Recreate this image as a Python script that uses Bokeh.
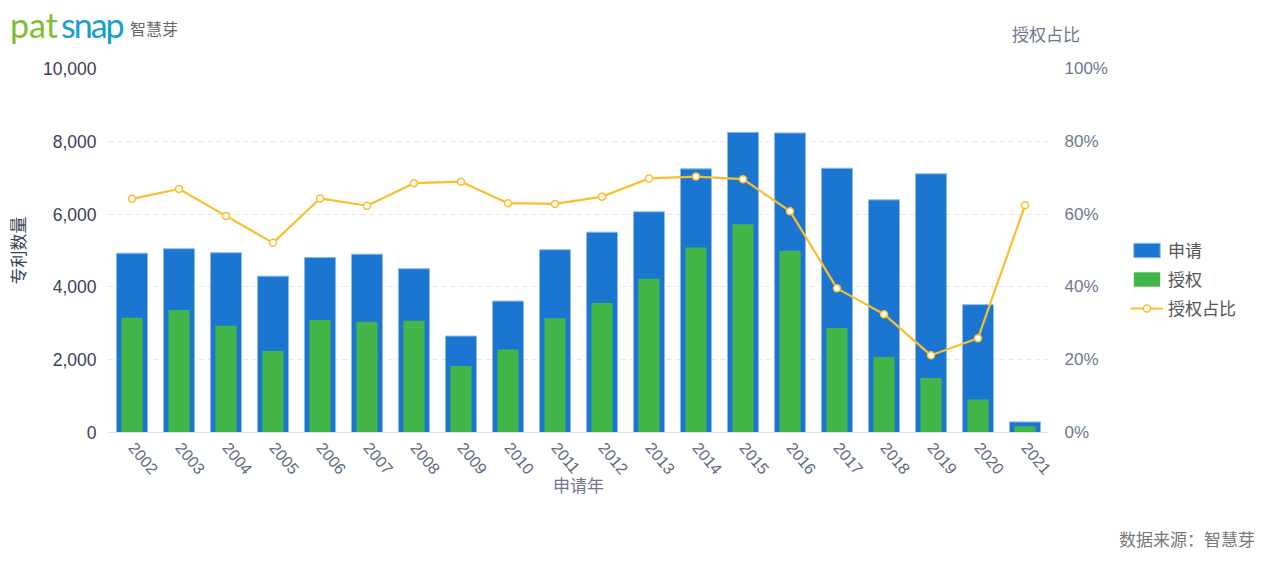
from bokeh.plotting import figure
from bokeh.layouts import column, row
from bokeh.models import (Range1d, LinearAxis, NumeralTickFormatter, PrintfTickFormatter,
                          FixedTicker, Legend, LegendItem, FactorRange, ColumnDataSource, Div)
from bokeh.embed import file_html
from bokeh.resources import INLINE

# ---- data ----
years = ["2002", "2003", "2004", "2005", "2006", "2007", "2008", "2009", "2010", "2011",
         "2012", "2013", "2014", "2015", "2016", "2017", "2018", "2019", "2020", "2021"]
applications = [4927, 5048, 4938, 4296, 4809, 4900, 4499, 2650, 3610, 5021,
                5504, 6063, 7243, 8247, 8230, 7260, 6392, 7106, 3512, 291]
grants = [3155, 3364, 2935, 2239, 3089, 3045, 3073, 1827, 2277, 3136,
          3556, 4225, 5084, 5723, 4993, 2870, 2074, 1498, 905, 175]
grant_ratio = [64.2, 66.9, 59.5, 52.1, 64.3, 62.3, 68.5, 68.9, 63.0, 62.8,
               64.8, 69.8, 70.3, 69.6, 60.8, 39.6, 32.5, 21.2, 25.9, 62.4]
count_ticks = [0, 2000, 4000, 6000, 8000, 10000]
pct_ticks = [0, 20, 40, 60, 80, 100]
series_names = ["申请", "授权", "授权占比"]

BLUE = "#1B76D2"
GREEN = "#43B64A"
ORANGE = "#FBBF2E"
CJK = "Noto Sans CJK SC"
NUM = "Liberation Sans"

source = ColumnDataSource(dict(year=years, app=applications, grant=grants, ratio=grant_ratio))

p = figure(x_range=FactorRange(*years, range_padding=0), y_range=Range1d(0, 10000),
           width=1110, height=463, output_backend="svg", toolbar_location=None,
           min_border_left=108, min_border_right=62, min_border_top=10, min_border_bottom=89,
           margin=(0, 0, 0, 0))
p.extra_y_ranges = {"pct": Range1d(0, 100)}
p.outline_line_color = None
p.background_fill_color = "white"

# grid
p.xgrid.grid_line_color = None
p.ygrid.ticker = FixedTicker(ticks=count_ticks)
p.ygrid.grid_line_color = "#E3E6EB"
p.ygrid.grid_line_dash = "5 4"

# left axis
ya = p.yaxis[0]
ya.ticker = FixedTicker(ticks=count_ticks)
ya.formatter = NumeralTickFormatter(format="0,0")
ya.axis_line_color = None
ya.major_tick_line_color = None
ya.minor_tick_line_color = None
ya.major_label_standoff = 6
ya.major_label_text_font = NUM
ya.major_label_text_font_size = "17.5px"
ya.major_label_text_color = "#3A4157"
ya.axis_label = "专利数量"
ya.axis_label_text_font = CJK
ya.axis_label_text_font_size = "17px"
ya.axis_label_text_font_style = "normal"
ya.axis_label_text_color = "#3A4157"
ya.axis_label_standoff = 10

# bottom axis
xa = p.xaxis[0]
xa.axis_line_color = "#DCE2EC"
xa.major_tick_line_color = None
xa.minor_tick_line_color = None
xa.major_label_orientation = -0.87
xa.major_label_standoff = 6
xa.major_label_text_font = NUM
xa.major_label_text_font_size = "16px"
xa.major_label_text_color = "#5E6882"
xa.axis_label = "申请年"
xa.axis_label_text_font = CJK
xa.axis_label_text_font_size = "17px"
xa.axis_label_text_font_style = "normal"
xa.axis_label_text_color = "#6E7891"
xa.axis_label_standoff = -10

# right axis
ra = LinearAxis(y_range_name="pct", ticker=FixedTicker(ticks=pct_ticks),
                formatter=PrintfTickFormatter(format="%d%%"))
ra.axis_line_color = None
ra.major_tick_line_color = None
ra.minor_tick_line_color = None
ra.major_label_standoff = 10
ra.major_label_text_font = NUM
ra.major_label_text_font_size = "17px"
ra.major_label_text_color = "#6E7891"
p.add_layout(ra, "right")

# bars
p.vbar(x="year", top="app", width=0.66, source=source, fill_color=BLUE,
       line_color="#8DBBEA", line_width=1)
p.vbar(x="year", top="grant", width=0.45, source=source, fill_color=GREEN, line_color=None)
# ratio line
p.line(x="year", y="ratio", y_range_name="pct", source=source,
       line_color=ORANGE, line_width=2.2)
p.scatter(x="year", y="ratio", y_range_name="pct", source=source, marker="circle",
          size=7, fill_color="white", line_color=ORANGE, line_width=1.5)

# ---- legend panel (separate small figure holding the legend keys) ----
lg = figure(width=156, height=463, x_range=Range1d(0, 1), y_range=Range1d(0, 1),
            output_backend="svg", toolbar_location=None, min_border=0,
            min_border_top=10, min_border_bottom=89, margin=(0, 0, 0, 0))
lg.axis.visible = False
lg.grid.visible = False
lg.outline_line_color = None
nan = float("nan")
keys = ColumnDataSource(dict(x=[nan], top=[nan], y=[nan]))  # legend keys only, nothing drawn
k_app = lg.vbar(x="x", top="top", width=0.5, source=keys, fill_color=BLUE, line_color="#8DBBEA")
k_grant = lg.vbar(x="x", top="top", width=0.5, source=keys, fill_color=GREEN, line_color=None)
k_line = lg.line(x="x", y="y", source=keys, line_color=ORANGE, line_width=2)
k_pt = lg.scatter(x="x", y="y", source=keys, marker="circle", size=11,
                  fill_color="white", line_color=ORANGE, line_width=1.5)
legend = Legend(items=[LegendItem(label=series_names[0], renderers=[k_app]),
                       LegendItem(label=series_names[1], renderers=[k_grant]),
                       LegendItem(label=series_names[2], renderers=[k_line, k_pt])],
                location=(20, 112), orientation="vertical",
                label_text_font=CJK, label_text_font_size="17px", label_text_color="#555555",
                glyph_width=33, glyph_height=18, label_height=20, spacing=4,
                padding=0, margin=0, border_line_color=None, background_fill_alpha=0,
                label_standoff=5)
lg.add_layout(legend)

top_html = (
    '<div style="position:relative;width:1266px;height:58px;">'
    '<span style="position:absolute;left:10px;top:8px;line-height:34px;font-family:Lato;'
    'font-size:34px;color:#7DBE31;">pat</span>'
    '<span style="position:absolute;left:61px;top:8px;line-height:34px;font-family:Lato;'
    'font-size:34px;letter-spacing:-2px;color:#14A0D0;">snap</span>'
    '<span style="position:absolute;left:130px;top:20px;line-height:17px;font-family:\'Noto Sans CJK SC\';'
    'font-size:16px;color:#666666;">智慧芽</span>'
    '<span style="position:absolute;left:1012px;top:25px;line-height:17px;font-family:\'Noto Sans CJK SC\';'
    'font-size:17px;color:#6E7891;">授权占比</span>'
    '</div>'
)
bottom_html = (
    '<div style="position:relative;width:1266px;height:40px;">'
    '<span style="position:absolute;right:11px;top:9px;line-height:18px;font-family:\'Noto Sans CJK SC\';'
    'font-size:17px;color:#777777;">数据来源：智慧芽</span>'
    '</div>'
)
top_div = Div(text=top_html, width=1266, height=58, margin=(0, 0, 0, 0))
bottom_div = Div(text=bottom_html, width=1266, height=40, margin=(0, 0, 0, 0))

layout = column(top_div, row(p, lg, spacing=0, margin=(0, 0, 0, 0)), bottom_div,
                spacing=0, margin=(0, 0, 0, 0))

open("out.html", "w").write(file_html(layout, INLINE))
